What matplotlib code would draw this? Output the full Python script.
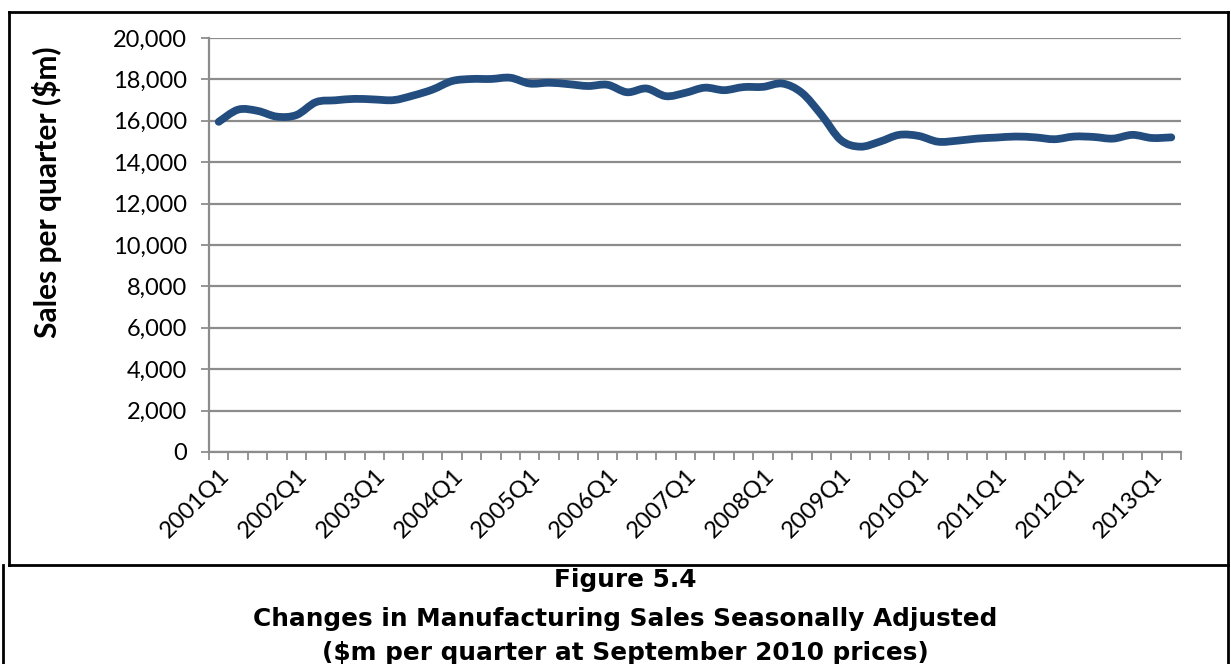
import numpy as np
import matplotlib
matplotlib.use('Agg')
import matplotlib.pyplot as plt
from matplotlib.path import Path
from matplotlib.patches import PathPatch
from matplotlib.lines import Line2D
from matplotlib.ticker import FuncFormatter

# quarterly sales ($m), 2001Q1 .. 2013Q2
sales = [15950, 16540, 16480, 16200, 16280, 16900, 16990, 17060, 17030, 17000,
         17220, 17510, 17920, 18020, 18020, 18080, 17800, 17840, 17770, 17680,
         17740, 17380, 17560, 17190, 17350, 17600, 17480, 17630, 17640, 17800,
         17350, 16290, 15070, 14750, 14990, 15320, 15270, 14990, 15040, 15140,
         15190, 15240, 15200, 15110, 15240, 15220, 15140, 15320, 15170, 15200]
year_labels = ['2001Q1', '2002Q1', '2003Q1', '2004Q1', '2005Q1', '2006Q1', '2007Q1',
               '2008Q1', '2009Q1', '2010Q1', '2011Q1', '2012Q1', '2013Q1']
y_ticks = [0, 2000, 4000, 6000, 8000, 10000, 12000, 14000, 16000, 18000, 20000]

W, H = 1231, 664
fig = plt.figure(figsize=(W / 100, H / 100), dpi=100)
ax = fig.add_axes([209 / W, 1 - 452 / H, 972 / W, 414 / H])

# smoothed line like the spreadsheet one (bezier through every point)
x = np.arange(len(sales), dtype=float)
y = np.array(sales, dtype=float)
verts = [(x[0], y[0])]
codes = [Path.MOVETO]
n = len(x)
for i in range(n - 1):
    p0 = np.array([x[max(i - 1, 0)], y[max(i - 1, 0)]])
    p1 = np.array([x[i], y[i]])
    p2 = np.array([x[i + 1], y[i + 1]])
    p3 = np.array([x[min(i + 2, n - 1)], y[min(i + 2, n - 1)]])
    c1 = p1 + (p2 - p0) / 6
    c2 = p2 - (p3 - p1) / 6
    verts += [tuple(c1), tuple(c2), tuple(p2)]
    codes += [Path.CURVE4] * 3
ax.add_patch(PathPatch(Path(verts, codes), facecolor='none', edgecolor='#234d7e',
                       linewidth=5.6, capstyle='round', joinstyle='round', zorder=3))

ax.set_xlim(-0.5, n - 0.5)
ax.set_ylim(0, 20000)

ax.set_yticks(y_ticks)
ax.yaxis.set_major_formatter(FuncFormatter(lambda v, p: f'{int(v):,}'))
ax.grid(axis='y', color='#8c8c8c', linewidth=1.6)
ax.set_axisbelow(True)

# tick marks between categories, labels at every 4th category
ax.set_xticks(np.arange(-0.5, n, 1.0))
ax.set_xticklabels([])
ax.set_xticks(np.arange(0, n, 4), minor=True)
ax.set_xticklabels(year_labels, minor=True, rotation=45, ha='right', va='top',
                   rotation_mode='anchor', fontsize=17, family='Lato')
ax.tick_params(axis='x', which='major', length=6, width=1.3, color='#8c8c8c')
ax.tick_params(axis='x', which='minor', length=0, pad=9)
ax.tick_params(axis='y', length=6, width=1.3, color='#8c8c8c', labelsize=17, pad=10)
for lab in ax.get_yticklabels():
    lab.set_family('Lato')

for s in ['top', 'right']:
    ax.spines[s].set_visible(False)
for s in ['left', 'bottom']:
    ax.spines[s].set_color('#8c8c8c')
    ax.spines[s].set_linewidth(1.6)

ax.set_ylabel('Sales per quarter ($m)', fontsize=21.5, fontweight='bold', family='Lato')
ax.yaxis.set_label_coords((62 - 209) / 972, (452 - 192) / 414)

# frame lines round chart and caption
def px_line(x0, y0, x1, y1, lw=2):
    fig.add_artist(Line2D([x0 / W, x1 / W], [1 - y0 / H, 1 - y1 / H],
                          transform=fig.transFigure, color='black', linewidth=lw))

px_line(9, 12, 1228, 12)
px_line(9, 12, 9, 565)
px_line(1228, 12, 1228, 664)
px_line(9, 565, 1228, 565)
px_line(3, 565, 3, 664)

cap_kw = dict(ha='center', va='center', fontsize=17.8, fontweight='bold', family='DejaVu Sans')
fig.text(625 / W, 1 - 580 / H, 'Figure 5.4', **cap_kw)
fig.text(625 / W, 1 - 619 / H, 'Changes in Manufacturing Sales Seasonally Adjusted', **cap_kw)
fig.text(625 / W, 1 - 653 / H, '($m per quarter at September 2010 prices)', **cap_kw)

fig.savefig('out.png', dpi=100)
